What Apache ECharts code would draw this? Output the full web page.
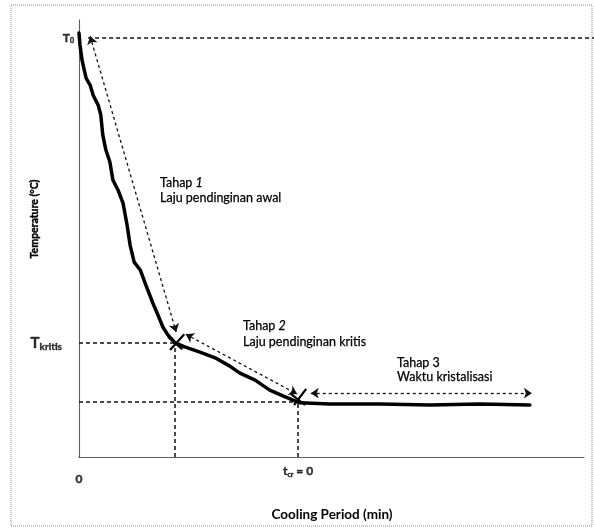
<!DOCTYPE html>
<html>
<head>
<meta charset="utf-8">
<script src="https://cdn.jsdelivr.net/npm/echarts@6/dist/echarts.min.js"></script>
<style>
html,body{margin:0;padding:0;background:#fff;}
#chart{width:594px;height:532px;}
</style>
</head>
<body>
<div id="chart"></div>
<script>
// Cooling curve (data units: x 0..100 cooling period, y 0..100 temperature)
const curveX = [0, 0.2, 0.6, 1.4, 2.2, 2.8, 3.8, 4.3, 4.7, 5.3, 6.1, 6.7, 7.7, 8.7, 9.5, 10.1, 10.9, 12.1, 13.2, 14.6, 15.6, 16.6, 17.6, 19.0, 20.9, 23.9, 26.9, 29.8, 31.8, 34.8, 37.7, 40.3, 42.3, 43.7, 49.6, 59.5, 69.4, 79.2, 89.1];
const curveY = [97.0, 94.3, 90.8, 86.7, 85.1, 82.8, 80.5, 78.3, 73.7, 70.3, 67.5, 63.4, 61.1, 58.1, 53.1, 48.5, 44.6, 42.8, 39.4, 35.2, 32.5, 29.7, 27.9, 26.1, 25.2, 24.0, 22.7, 20.8, 19.2, 17.6, 15.3, 14.0, 13.0, 12.4, 12.1, 12.1, 11.9, 12.1, 11.9];

// Key values
const T0 = 95.9;
const Tkritis = 26.1;
const Tcr = 12.6;
const xKritis = 19.0;
const xCr = 43.3;

// Tick labels
const yTickValues = [T0, Tkritis];
const yTickLabels = ['{t|T}{s0|0}', '{tk|T}{sk|kritis}'];
const xTickValues = [0, xCr];
const xTickLabels = ['{z|0}', '{t|t}{s|cr}{t| = 0}'];

// Stage annotation arrows [from, to]
const arrowStarts = [[2.2, 96.3], [21.1, 28.1], [45.8, 14.6]];
const arrowEnds = [[19.2, 28.6], [43.1, 14.4], [89.5, 14.6]];

// Cross marks
const crossStarts = [[18.0, 24.5], [17.6, 27.5], [42.5, 11.9], [41.9, 14.4]];
const crossEnds = [[20.8, 28.1], [20.4, 24.7], [44.9, 15.6], [44.7, 11.9]];

const FONT = 'Lato, "Open Sans", sans-serif';

const chart = echarts.init(document.getElementById('chart'), null, {renderer: 'canvas'});

const curveData = curveX.map((x, i) => [x, curveY[i]]);

const guides = [
  [[1.8, T0], [101.8, T0]],
  [[0, Tkritis], [xKritis, Tkritis]],
  [[xKritis, 0], [xKritis, Tkritis]],
  [[0, Tcr], [xCr, Tcr]],
  [[xCr, 0], [xCr, Tcr]]
];

const txt = (x, y, text) => ({
  type: 'text', x: x, y: y,
  style: {
    text: text, fontSize: 12.5, fontFamily: FONT, fill: '#000', verticalAlign: 'middle',
    stroke: '#000', lineWidth: 0.25,
    rich: {i: {fontStyle: 'italic', fontSize: 12.5, fontFamily: FONT, fill: '#000', stroke: '#000', lineWidth: 0.25}}
  }
});

const B = {fontFamily: FONT, fontWeight: 'bold', color: '#000', textBorderColor: '#000', textBorderWidth: 0.4};

const option = {
  backgroundColor: '#fff',
  animation: false,
  grid: {left: 79, right: 9, top: 20, bottom: 75},
  xAxis: {
    type: 'value', min: 0, max: 100,
    name: 'Cooling Period (min)',
    nameLocation: 'middle', nameGap: 51,
    nameTextStyle: {fontFamily: FONT, fontWeight: 'bold', fontSize: 13.5, color: '#000'},
    axisLine: {show: true, lineStyle: {type: [1, 1], color: '#555', width: 1.2}},
    axisTick: {show: false}, axisLabel: {show: false}, splitLine: {show: false}
  },
  yAxis: {
    type: 'value', min: 0, max: 100,
    axisLine: {show: true, lineStyle: {type: [1, 1], color: '#555', width: 1.2}},
    axisTick: {show: false}, axisLabel: {show: false}, splitLine: {show: false}
  },
  graphic: [
    {type: 'rect', shape: {x: 11, y: 5, width: 581, height: 521}, style: {fill: 'none', stroke: '#888', lineWidth: 1, lineDash: [1, 1]}, silent: true},
    {type: 'text', x: 35, y: 219, rotation: Math.PI / 2, style: {text: 'Temperature (°C)', fontSize: 10.5, fontWeight: 'bold', fontFamily: FONT, fill: '#000', stroke: '#000', lineWidth: 0.4, align: 'center', verticalAlign: 'middle'}},
    txt(160, 183, 'Tahap {i|1}'),
    txt(160, 198, 'Laju pendinginan awal'),
    txt(243, 326, 'Tahap {i|2}'),
    txt(243, 342, 'Laju pendinginan kritis'),
    txt(397, 363, 'Tahap 3'),
    txt(397, 377, 'Waktu kristalisasi')
  ],
  series: [
    {
      type: 'lines', coordinateSystem: 'cartesian2d', clip: false, silent: true,
      symbol: ['none', 'none'],
      lineStyle: {color: '#111', width: 1.5, type: [4, 3], opacity: 1},
      data: guides.map(c => ({coords: c}))
    },
    {
      type: 'lines', coordinateSystem: 'cartesian2d', clip: false, silent: true,
      symbol: ['arrow', 'arrow'], symbolSize: 8,
      lineStyle: {color: '#111', width: 1.3, type: [3, 3], opacity: 1},
      data: arrowStarts.map((s, i) => ({coords: [s, arrowEnds[i]]}))
    },
    {
      type: 'lines', coordinateSystem: 'cartesian2d', clip: false, silent: true,
      symbol: ['none', 'none'],
      lineStyle: {color: '#000', width: 2.2, type: 'solid', opacity: 1},
      data: crossStarts.map((s, i) => ({coords: [s, crossEnds[i]]}))
    },
    {
      type: 'line', data: curveData, symbol: 'none', smooth: false, silent: true,
      lineStyle: {color: '#000', width: 3.5, join: 'round', cap: 'round'}
    },
    {
      type: 'scatter', clip: false, symbolSize: 0, silent: true,
      data: yTickValues.map(v => [0, v]),
      label: {
        show: true, position: 'left',
        formatter: p => yTickLabels[p.dataIndex],
        distance: 5, fontWeight: 'bold', fontFamily: FONT, color: '#000',
        rich: {
          t: Object.assign({fontSize: 12}, B),
          s0: Object.assign({fontSize: 7, padding: [6, 0, 0, 0]}, B),
          tk: Object.assign({fontSize: 15}, B),
          sk: Object.assign({fontSize: 10, padding: [7, 0, 0, 0]}, B)
        }
      },
      labelLayout: p => (p.dataIndex === 1 ? {dx: -12, dy: 0} : {})
    },
    {
      type: 'scatter', clip: false, symbolSize: 0, silent: true,
      data: xTickValues.map(v => [v, 0]),
      label: {
        show: true, position: 'bottom',
        formatter: p => xTickLabels[p.dataIndex],
        distance: 8, fontWeight: 'bold', fontFamily: FONT, color: '#000',
        rich: {
          z: Object.assign({fontSize: 12, padding: [8, 0, 0, 0]}, B),
          t: Object.assign({fontSize: 12}, B),
          s: Object.assign({fontSize: 7, padding: [6, 0, 0, 0]}, B)
        }
      }
    }
  ]
};
chart.setOption(option);
</script>
</body>
</html>
